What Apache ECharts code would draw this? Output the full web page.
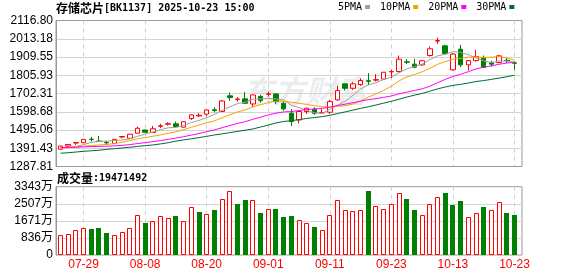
<!DOCTYPE html>
<html><head><meta charset="utf-8">
<script src="https://cdn.jsdelivr.net/npm/echarts@6/dist/echarts.min.js"></script>
<style>html,body{margin:0;padding:0;background:#fff}#c{width:578px;height:276px}</style>
</head><body><div id="c"></div>
<script>
const titleName = '存储芯片';
const titleCode = '[BK1137]';
const titleTime = '2025-10-23 15:00';
const dates = ['07-24','07-25','07-28','07-29','07-30','07-31','08-01','08-04','08-05','08-06','08-07','08-08','08-11','08-12','08-13','08-14','08-15','08-18','08-19','08-20','08-21','08-22','08-25','08-26','08-27','08-28','08-29','09-01','09-02','09-03','09-04','09-05','09-08','09-09','09-10','09-11','09-12','09-15','09-16','09-17','09-18','09-19','09-22','09-23','09-24','09-25','09-26','09-29','09-30','10-09','10-10','10-13','10-14','10-15','10-16','10-17','10-20','10-21','10-22','10-23'];
const opens = [1386,1404,1421,1423,1443,1432,1424,1418,1455,1448,1477,1495,1481,1516,1528,1530,1511,1560,1575,1585,1610,1600,1689,1668,1672,1643,1685,1697,1700,1647,1590,1552,1600,1613,1592,1596,1666,1757,1732,1753,1775,1778,1784,1825,1827,1882,1869,1865,1918,2000,1973,1837,1954,1865,1889,1903,1878,1878,1891,1877];
const closes = [1404,1413,1424,1442,1441,1430,1422,1442,1458,1471,1505,1482,1502,1519,1531,1514,1542,1581,1579,1609,1606,1660,1679,1671,1647,1694,1662,1700,1656,1615,1543,1600,1619,1590,1595,1656,1719,1732,1757,1776,1772,1781,1823,1827,1897,1880,1852,1888,1956,2003,1928,1926,1865,1889,1912,1850,1869,1916,1888,1874];
const lows = [1384,1391,1410,1422,1429,1429,1410,1417,1448,1447,1476,1481,1480,1505,1520,1512,1510,1552,1569,1573,1595,1598,1660,1656,1645,1625,1651,1685,1641,1605,1518,1533,1586,1581,1590,1586,1660,1719,1723,1746,1751,1771,1782,1789,1821,1869,1846,1859,1912,1984,1926,1833,1852,1833,1884,1846,1855,1875,1875,1837];
const highs = [1406,1415,1425,1443,1456,1461,1434,1443,1459,1472,1514,1496,1518,1530,1539,1543,1544,1583,1590,1611,1624,1666,1708,1681,1710,1696,1694,1713,1702,1656,1615,1602,1621,1624,1614,1666,1746,1761,1767,1789,1818,1812,1825,1837,1918,1897,1899,1893,1969,2020,1979,1932,1979,1892,1950,1918,1889,1922,1903,1884];
const prevClose = 1380;
const volumes = [9790000,10280000,12240000,13360000,12870000,13360000,10920000,9790000,11260000,13360000,19580000,15810000,16640000,19090000,18110000,19090000,16640000,23500000,21050000,20070000,22170000,27410000,31480000,24960000,27070000,27070000,20710000,22520000,22660000,18750000,19240000,17130000,15590000,13710000,12240000,19430000,26920000,22030000,21540000,22030000,31480000,23990000,22520000,24820000,30200000,27410000,22170000,19430000,24820000,28390000,30500000,24480000,26430000,18450000,20410000,23500000,22030000,25940000,20560000,19471492];
const ma5 = [1390,1395,1402,1412,1424.8,1430,1431.8,1435.4,1438.6,1444.6,1459.6,1471.6,1483.6,1495.8,1507.8,1509.6,1521.6,1537.4,1549.4,1565,1583.4,1607,1626.6,1645,1652.6,1670.2,1670.6,1674.8,1671.8,1665.4,1635.2,1622.8,1606.6,1593.4,1589.4,1612,1635.8,1658.4,1691.8,1728,1751.2,1763.6,1781.8,1795.8,1820,1841.6,1855.8,1868.8,1894.6,1915.8,1925.4,1940.2,1935.6,1922.2,1904,1888.4,1877,1887.2,1887,1879.4];
const ma10 = [1393,1396,1399,1403,1407,1410,1413,1418,1426,1434.7,1444.8,1451.7,1459.5,1467.2,1476.2,1484.6,1496.6,1510.5,1522.6,1536.4,1546.5,1564.3,1582,1597.2,1608.8,1626.8,1638.8,1650.7,1658.4,1659,1652.7,1646.7,1640.7,1632.6,1627.4,1623.6,1629.3,1632.5,1642.6,1658.7,1681.6,1699.7,1720.1,1743.8,1774,1796.4,1809.7,1825.3,1845.2,1867.9,1883.5,1898,1902.2,1908.4,1909.9,1906.9,1908.6,1911.4,1904.6,1891.7];
const ma20 = [1395,1396,1397,1399,1401,1402,1403,1405,1408,1412,1418,1423,1429,1435,1442,1449,1457,1466,1475,1485.6,1495.7,1508,1520.8,1532.2,1542.5,1555.7,1567.7,1580.6,1590.5,1597.7,1599.6,1605.5,1611.4,1614.9,1618.1,1625.2,1634.1,1641.6,1650.5,1658.9,1667.2,1673.2,1680.4,1688.2,1700.7,1710,1719.5,1728.9,1743.9,1763.3,1782.6,1798.9,1811.2,1826.1,1842,1851.7,1859.2,1868.4,1874.9,1879.8];
const ma30 = [1363,1366,1370,1374,1377,1380,1385,1389,1393,1397,1402,1406,1410,1416,1423,1432,1439,1445,1452,1459,1467,1473,1480,1487,1494,1501,1512,1523,1535,1543.4,1548,1554.2,1560.7,1565.7,1570.8,1578.3,1588.2,1597.9,1607.9,1618,1626.9,1636.9,1647.6,1657.9,1670.1,1682.3,1692.6,1702.8,1715.4,1728.5,1739.3,1748.1,1754.3,1761.6,1770.4,1775.6,1782.5,1789.7,1797.5,1806.1];
const priceTicks = ['1287.81','1391.43','1495.06','1598.68','1702.31','1805.93','1909.55','2013.18','2116.80'];
const volTicks = ['0','836万','1671万','2507万','3343万'];
const volMax = 33430000;
const xTickLabels = ['07-29','08-08','08-20','09-01','09-11','09-23','10-13','10-23'];
const maNames = ['5PMA','10PMA','20PMA','30PMA'];
const maColors = ['#a0a0a0','#f5a300','#ff00ff','#006b30'];

const UP = '#ff0000', DOWN = '#008000';
const showIdx = (i) => xTickLabels.indexOf(dates[i]) >= 0;
const candleData = dates.map((d, i) => [opens[i], closes[i], lows[i], highs[i]]);
const volUp = volumes.map((v, i) => closes[i] >= (i ? closes[i - 1] : prevClose));
const volData = volumes.map((v, i) => [i, v]);

const FL = 56, FW = 466, DL = 56.65, DW = 461.7;
const PT = 20.5, PH = 146, VT = 186.7, VH = 68.3;
const labelFont = { fontFamily: 'Liberation Sans, Noto Sans CJK SC', fontSize: 12, color: '#000' };

function renderVol(params, api) {
  const i = api.value(0), v = api.value(1);
  const top = api.coord([i, v]), base = api.coord([i, 0]);
  const x0 = Math.round(top[0] - 2.5);
  const y0 = Math.round(top[1]), y1 = Math.round(base[1]);
  if (volUp[i]) {
    return { type: 'rect', shape: { x: x0 + 0.5, y: y0 + 0.5, width: 4, height: y1 - y0 - 1 },
      style: { fill: '#fff', stroke: UP, lineWidth: 1 } };
  }
  return { type: 'rect', shape: { x: x0, y: y0, width: 5, height: y1 - y0 }, style: { fill: DOWN } };
}

const chart = echarts.init(document.getElementById('c'), null, { renderer: 'canvas' });
chart.setOption({
  animation: false,
  backgroundColor: '#fff',
  title: [
    { left: 56, top: 1, padding: 0, text: '{a|' + titleName + '}{b|' + titleCode + ' ' + titleTime + '}',
      textStyle: { rich: { a: { fontFamily: 'Noto Sans CJK SC', fontSize: 12, color: '#000', lineHeight: 15 }, b: { fontFamily: 'DejaVu Sans Mono', fontSize: 10, color: '#000', lineHeight: 15 } } } },
    { left: 57, top: 170.5, padding: 0, text: '{a|成交量}{b|:' + volumes[volumes.length - 1] + '}',
      textStyle: { rich: { a: { fontFamily: 'Noto Sans CJK SC', fontSize: 12, color: '#000', lineHeight: 15 }, b: { fontFamily: 'DejaVu Sans Mono', fontSize: 10, color: '#000', lineHeight: 15 } } } }
  ],
  legend: {
    data: maNames, left: 338, top: 2, padding: 0, align: 'right', icon: 'rect', itemWidth: 5, itemHeight: 4, itemGap: 10,
    textStyle: { fontFamily: 'DejaVu Sans Mono', fontSize: 10, color: '#000', padding: [0, -2, 0, 0] }
  },
  graphic: [{ type: 'text', left: 243, top: 76, z: -10, silent: true,
    style: { text: '东方财富', font: 'italic bold 31px "Noto Sans CJK SC"', fill: '#ececec' } }],
  grid: [
    { left: FL, top: PT, width: FW, height: PH, show: true, borderColor: '#999', borderWidth: 1, backgroundColor: 'transparent' },
    { left: DL, top: PT, width: DW, height: PH },
    { left: FL, top: VT, width: FW, height: VH, show: true, borderColor: '#999', borderWidth: 1, backgroundColor: 'transparent' },
    { left: DL, top: VT, width: DW, height: VH }
  ],
  xAxis: [
    { gridIndex: 0, type: 'value', min: 0, max: 1, show: false },
    { gridIndex: 1, type: 'category', data: dates, boundaryGap: true,
      axisLine: { show: false }, axisTick: { show: false }, axisLabel: { show: false },
      splitLine: { show: true, interval: (i) => showIdx(i), alignWithLabel: true, lineStyle: { color: '#cfcfcf', type: [4, 4], width: 1 } } },
    { gridIndex: 2, type: 'value', min: 0, max: 1, show: false },
    { gridIndex: 3, type: 'category', data: dates, boundaryGap: true,
      axisLine: { show: false }, axisTick: { show: false },
      axisLabel: { show: true, interval: (i) => showIdx(i), margin: 4, color: '#ff0000', fontFamily: 'Liberation Sans', fontSize: 12 },
      splitLine: { show: true, interval: (i) => showIdx(i), alignWithLabel: true, lineStyle: { color: '#cfcfcf', type: [4, 4], width: 1 } } }
  ],
  yAxis: [
    { gridIndex: 0, type: 'value', min: 0, max: priceTicks.length - 1, interval: 1,
      axisLine: { show: true, lineStyle: { color: '#999' } }, axisTick: { show: false },
      axisLabel: Object.assign({ margin: 3, formatter: (v) => priceTicks[Math.round(v)] }, labelFont),
      splitLine: { show: true, showMinLine: false, showMaxLine: false, lineStyle: { color: '#d4d4d4', width: 1 } } },
    { gridIndex: 1, type: 'value', min: parseFloat(priceTicks[0]), max: parseFloat(priceTicks[priceTicks.length - 1]), show: false, splitLine: { show: false } },
    { gridIndex: 2, type: 'value', min: 0, max: volTicks.length - 1, interval: 1,
      axisLine: { show: true, lineStyle: { color: '#999' } }, axisTick: { show: false },
      axisLabel: Object.assign({ margin: 3, formatter: (v) => volTicks[Math.round(v)] }, labelFont),
      splitLine: { show: true, showMinLine: false, showMaxLine: false, lineStyle: { color: '#d4d4d4', width: 1 } } },
    { gridIndex: 3, type: 'value', min: 0, max: volMax, show: false, splitLine: { show: false } }
  ],
  series: [
    { type: 'candlestick', xAxisIndex: 1, yAxisIndex: 1, data: candleData, barWidth: 5,
      itemStyle: { color: '#fff', color0: DOWN, borderColor: UP, borderColor0: DOWN, borderWidth: 1 } },
    ...[ma5, ma10, ma20, ma30].map((d, k) => ({
      name: maNames[k], type: 'line', xAxisIndex: 1, yAxisIndex: 1, data: d, symbol: 'none', showSymbol: false,
      lineStyle: { color: maColors[k], width: 1 }, itemStyle: { color: maColors[k] }, z: 3
    })),
    { type: 'custom', xAxisIndex: 3, yAxisIndex: 3, data: volData, encode: { x: 0, y: 1 }, renderItem: renderVol }
  ]
});
</script></body></html>
